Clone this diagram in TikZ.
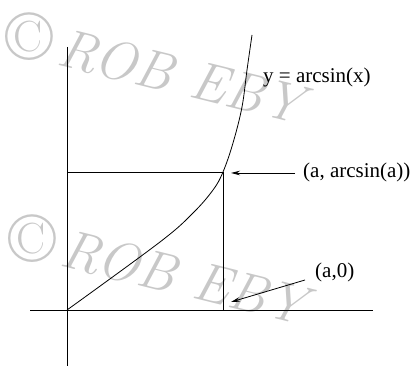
\documentclass[tikz,border=0pt]{standalone}
\usepackage{fontspec}
\setmainfont{Liberation Serif}
\newfontfamily\wmfont{Latin Modern Roman}
\usetikzlibrary{arrows.meta}
\definecolor{wmgray}{RGB}{200,200,200}
\tikzset{
  axis/.style={line width=0.8pt},
  curveline/.style={line width=0.8pt},
  lbl/.style={font=\fontsize{21}{25}\selectfont, inner sep=0pt, anchor=base west},
  pointer/.style={line width=0.8pt, -{Stealth[length=9pt,width=4.5pt]}},
  wmc/.style={text=wmgray, font=\wmfont\fontsize{70}{80}\selectfont, inner sep=0pt},
  wmt/.style={text=wmgray, font=\wmfont\itshape\fontsize{55}{64}\selectfont, inner sep=0pt, anchor=base west, rotate=-14},
}
\begin{document}
\begin{tikzpicture}[x=1pt,y=-1pt]
\useasboundingbox (0,0) rectangle (413,366);
% watermarks
\node[wmc] (c1) at (29,37) {©};
\node[wmt] (w1) at (55,64) {ROB EBY};
\node[wmc] (c2) at (32,239) {©};
\node[wmt] (w2) at (58,265) {ROB EBY};
% axes
\coordinate (ytop) at (67,47);
\coordinate (ybot) at (67,366);
\coordinate (xl) at (30,310);
\coordinate (xr) at (373,310);
\draw[axis] (ytop) -- (ybot);
\draw[axis] (xl) -- (xr);
% rectangle
\coordinate (O) at (67,310);
\coordinate (P) at (223,172);
\coordinate (A) at (223,310);
\draw[axis] (O) rectangle (P);
% curve
\draw[curveline] plot[smooth, tension=0.6] coordinates {(67,310) (160,242) (193,213) (213,190) (223,172) (233,143) (242,107) (247,70) (252,35)};
% labels
\node[lbl] (lcurve) at (263,83) {y = arcsin(x)};
\node[lbl] (lP) at (303,178) {(a, arcsin(a))};
\node[lbl] (lA) at (315,278) {(a,0)};
\coordinate (sP) at (295,173);
\coordinate (eP) at (231,173);
\coordinate (sA) at (305,280);
\coordinate (eA) at (231,302);
\draw[pointer] (sP) -- (eP);
\draw[pointer] (sA) -- (eA);
\end{tikzpicture}
\end{document}
